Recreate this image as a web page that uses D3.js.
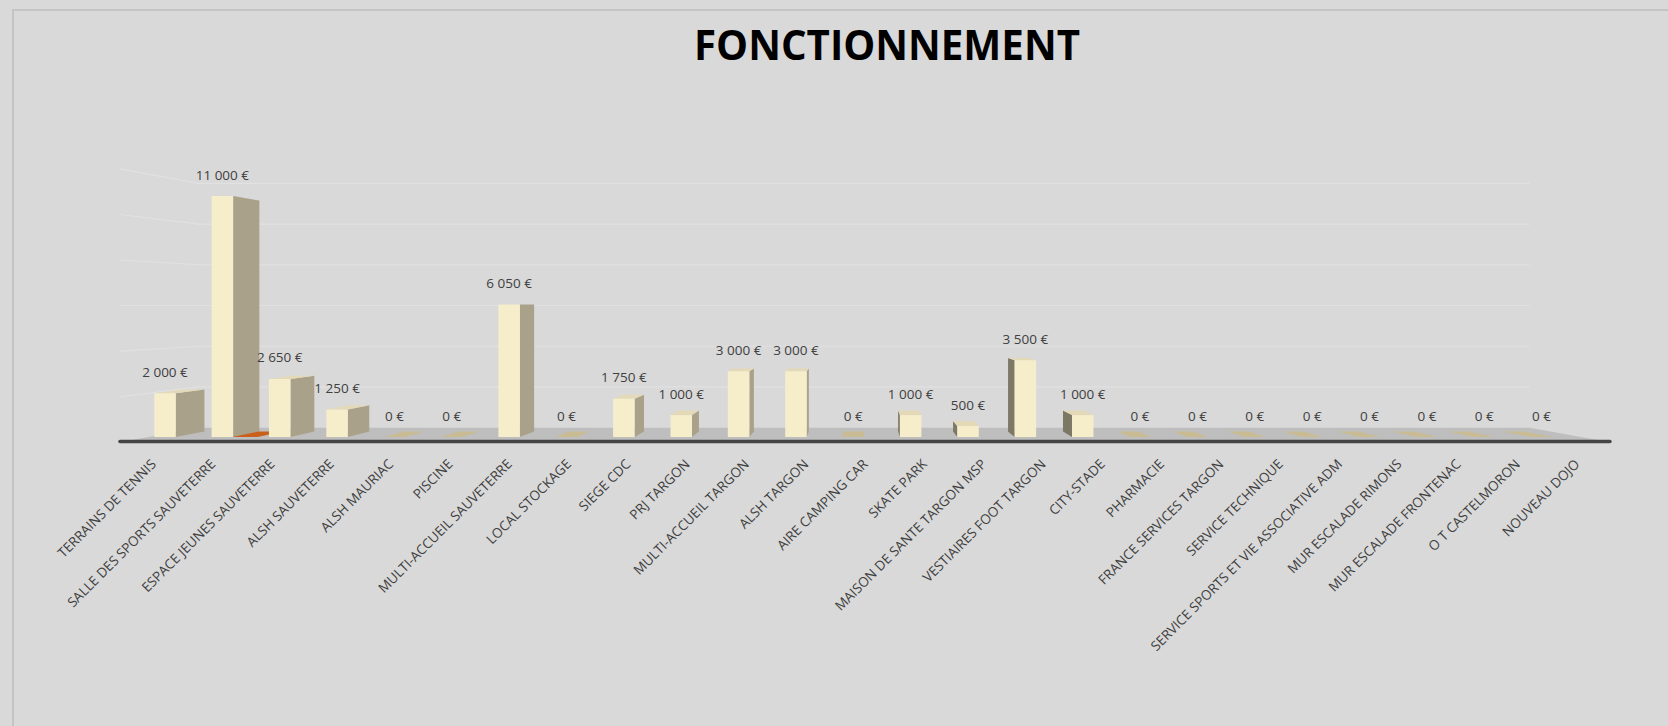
<!DOCTYPE html>
<html lang="fr">
<head>
<meta charset="utf-8">
<title>Fonctionnement</title>
<script src="https://cdn.jsdelivr.net/npm/d3@7"></script>
<style>
  html, body { margin: 0; padding: 0; background: #d9d9d9; }
  svg { display: block; }
</style>
</head>
<body>
<div id="chart"></div>
<script>
// Data
const categories = [
    "TERRAINS DE TENNIS", "SALLE DES SPORTS SAUVETERRE", "ESPACE JEUNES SAUVETERRE",
    "ALSH SAUVETERRE", "ALSH MAURIAC", "PISCINE", "MULTI-ACCUEIL SAUVETERRE",
    "LOCAL STOCKAGE", "SIEGE CDC", "PRJ TARGON", "MULTI-ACCUEIL TARGON", "ALSH TARGON",
    "AIRE CAMPING CAR", "SKATE PARK", "MAISON DE SANTE TARGON MSP", "VESTIAIRES FOOT TARGON",
    "CITY-STADE", "PHARMACIE", "FRANCE SERVICES TARGON", "SERVICE TECHNIQUE",
    "SERVICE SPORTS ET VIE ASSOCIATIVE ADM", "MUR ESCALADE RIMONS", "MUR ESCALADE FRONTENAC",
    "O T CASTELMORON", "NOUVEAU DOJO"
];
const amounts = [
    2000, 11000, 2650, 1250, 0, 0, 6050, 0, 1750, 1000, 3000, 3000,
    0, 1000, 500, 3500, 1000, 0, 0, 0, 0, 0, 0, 0, 0
];
// second series: a single empty value, only its flat base shows on the floor
const otherCategories = ["SALLE DES SPORTS SAUVETERRE"];
const otherAmounts = [0];
const gridTicks = [2000, 4000, 6000, 8000, 10000, 12000];
const chartTitle = "FONCTIONNEMENT";

const width = 1668;
const height = 726;

// Fake 3D: points are given in the front plane, then pulled toward the vanishing point
const vanish = { x: 858, y: 305 };
const depth = { barBack: 0.958, wallFront: 1.04, wallBack: 0.929, labels: 1.034 };
function proj(px, py, s) {
    return [vanish.x + (px - vanish.x) * s, vanish.y + (py - vanish.y) * s];
}

const x = d3.scalePoint().domain(categories).range([165, 1541.6]);
const barWidth = x.step() * 0.375;
const y = d3.scaleLinear().domain([0, 12000]).range([437, 174.1]);

// floor / walls extent, in front plane coordinates
const floorLeft = 148.4;
const floorRight = 1581;

const euro = d3.formatLocale({
    decimal: ",", thousands: " ", grouping: [3], currency: ["", " €"]
}).format("$,");

const colors = {
    front: "#f6edcb",
    sideLight: "#aaa18b",
    sideDark: "#7c7865",
    top: "#e3d9b7",
    empty: "#c9bb93",
    other: "#c8601c",
    text: "#404040"
};

const svg = d3.select("#chart")
    .append("svg")
    .attr("width", width)
    .attr("height", height)
    .style("font-family", "'Open Sans', sans-serif");

// Chart frame
svg.append("rect")
    .attr("x", 13)
    .attr("y", 10)
    .attr("width", width + 40)
    .attr("height", height + 40)
    .attr("fill", "none")
    .attr("stroke", "#c4c4c4")
    .attr("stroke-width", 2);

// Gridlines on side wall + back wall
const line = d3.line();
svg.append("g")
    .selectAll("path")
    .data(gridTicks)
    .enter()
    .append("path")
    .attr("d", v => line([
        proj(floorLeft, y(v), depth.wallFront),
        proj(floorLeft, y(v), depth.wallBack),
        proj(floorRight, y(v), depth.wallBack)
    ]))
    .attr("fill", "none")
    .attr("stroke", "#e1e1e1")
    .attr("stroke-width", 1.1);

// Floor
const floorPts = [
    proj(floorLeft, y(0), depth.wallFront),
    proj(floorRight, y(0), depth.wallFront),
    proj(floorRight, y(0), depth.wallBack),
    proj(floorLeft, y(0), depth.wallBack)
];
svg.append("path")
    .attr("d", line(floorPts) + "Z")
    .attr("fill", "#bebebe");
svg.append("path")
    .attr("d", line([floorPts[0], floorPts[1]].map(p => [p[0], p[1] - 0.8])))
    .attr("stroke", "#454545")
    .attr("stroke-width", 3.6)
    .attr("stroke-linecap", "round");

// Builds the visible faces of one box
function boxFaces(cx0, cx1, value) {
    const yt = y(value);
    const yb = y(0);
    const sb = depth.barBack;
    const faces = [];
    if (value > 0) {
        if (cx1 < vanish.x) {
            faces.push({ pts: [[cx1, yt], [cx1, yb], proj(cx1, yb, sb), proj(cx1, yt, sb)], fill: colors.sideLight });
        } else if (cx0 > vanish.x) {
            faces.push({ pts: [[cx0, yt], [cx0, yb], proj(cx0, yb, sb), proj(cx0, yt, sb)], fill: colors.sideDark });
        }
    }
    if (yt > vanish.y) {
        faces.push({
            pts: [[cx0, yt], [cx1, yt], proj(cx1, yt, sb), proj(cx0, yt, sb)],
            fill: value > 0 ? colors.top : colors.empty
        });
    }
    if (value > 0) {
        faces.push({ pts: [[cx0, yt], [cx1, yt], [cx1, yb], [cx0, yb]], fill: colors.front });
    }
    return faces;
}

const bars = categories.map((c, i) => ({ cat: c, value: amounts[i] }));
const barLayer = svg.append("g");
bars.forEach(d => {
    const cx0 = x(d.cat) - barWidth / 2;
    const cx1 = x(d.cat) + barWidth / 2;
    const g = barLayer.append("g");
    g.selectAll("path")
        .data(boxFaces(cx0, cx1, d.value))
        .enter()
        .append("path")
        .attr("d", f => line(f.pts) + "Z")
        .attr("fill", f => f.fill);

    // the other series sits right next to its category bar
    otherCategories.forEach((oc, j) => {
        if (oc !== d.cat) return;
        g.append("g")
            .selectAll("path")
            .data(boxFaces(cx1 - 1, cx1 + barWidth + 3, otherAmounts[j]))
            .enter()
            .append("path")
            .attr("d", f => line(f.pts) + "Z")
            .attr("fill", colors.other);
    });
});

// Value labels
svg.append("g")
    .selectAll("text")
    .data(bars)
    .enter()
    .append("text")
    .attr("x", d => x(d.cat))
    .attr("y", d => y(d.value) - 16.5)
    .attr("text-anchor", "middle")
    .attr("font-size", 13.5)
    .attr("fill", colors.text)
    .text(d => euro(d.value));

// Category labels
svg.append("g")
    .selectAll("text")
    .data(categories)
    .enter()
    .append("text")
    .attr("transform", c => `translate(${proj(x(c), y(0), depth.labels)[0] + 15.5}, 465) rotate(-45)`)
    .attr("text-anchor", "end")
    .attr("font-size", 13.5)
    .attr("fill", colors.text)
    .text(c => c);

// Title
svg.append("text")
    .attr("x", 887)
    .attr("y", 60)
    .attr("text-anchor", "middle")
    .attr("font-size", 41)
    .attr("font-weight", 700)
    .attr("textLength", 386)
    .attr("lengthAdjust", "spacingAndGlyphs")
    .attr("fill", "#000")
    .text(chartTitle);
</script>
</body>
</html>
